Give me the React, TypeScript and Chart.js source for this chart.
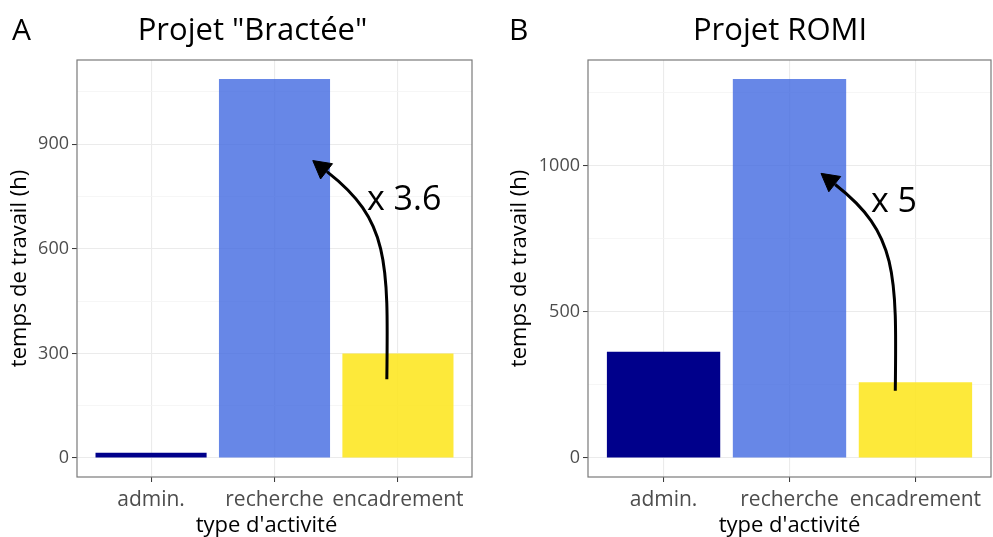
import React, { useEffect, useRef } from 'react';
import { Chart, registerables } from 'chart.js';

Chart.register(...registerables);

const FONT = "'Open Sans', 'Noto Sans', sans-serif";

// ---- data ----
const categories = ['admin.', 'recherche', 'encadrement'];
const hoursBractee = [15, 1087, 300];
const hoursRomi = [364, 1297, 259];
const barColors = ['#00008B', 'rgba(65,105,225,0.8)', 'rgba(253,231,37,0.9)'];

const yMajorBractee = [0, 300, 600, 900];
const yMinorBractee = [150, 450, 750, 1050];
const yMajorRomi = [0, 500, 1000];
const yMinorRomi = [250, 750, 1250];

// annotation arrows (data coordinates: [category index, hours]); end = arrow tip
const arrowStartBractee = [1.91, 226];
const arrowEndBractee = [1.31, 853];
const ratioTextBractee = 'x 3.6';
const ratioPosBractee = [2.05, 711];

const arrowStartRomi = [1.84, 230];
const arrowEndRomi = [1.25, 974];
const ratioTextRomi = 'x 5';
const ratioPosRomi = [1.83, 843];

type PanelProps = {
  letter: string;
  title: string;
  values: number[];
  yMajor: number[];
  yMinor: number[];
  arrowStart: number[];
  arrowEnd: number[];
  ratioText: string;
  ratioPos: number[];
  left: number;
  width: number;
  yAxisWidth: number;
  rightPad: number;
  yTitlePad: number;
  titleX: number;
  letterX: number;
  xTitleShift: number;
};

function drawArrow(ctx: CanvasRenderingContext2D, p0: { x: number; y: number }, tip: { x: number; y: number }) {
  const theta = (38 * Math.PI) / 180;
  const sx = Math.sign(p0.x - tip.x) || 1;
  const back = { x: sx * Math.cos(theta), y: Math.sin(theta) };
  const h = 17;
  const base = { x: tip.x + back.x * h, y: tip.y + back.y * h };
  const cx = p0.x + 2 * sx;
  const corner = { x: cx, y: base.y + Math.abs(cx - base.x) * Math.tan(theta) };
  const c1 = { x: p0.x + 0.75 * (corner.x - p0.x), y: p0.y + 0.75 * (corner.y - p0.y) };
  ctx.save();
  ctx.beginPath();
  ctx.moveTo(p0.x, p0.y);
  ctx.bezierCurveTo(c1.x, c1.y, corner.x, corner.y, base.x + back.x, base.y + back.y);
  ctx.lineWidth = 3;
  ctx.strokeStyle = '#000';
  ctx.lineCap = 'butt';
  ctx.stroke();
  const side = 20;
  const half = (29 * Math.PI) / 180;
  const ang = Math.atan2(back.y, back.x);
  ctx.beginPath();
  ctx.moveTo(tip.x, tip.y);
  ctx.lineTo(tip.x + side * Math.cos(ang - half), tip.y + side * Math.sin(ang - half));
  ctx.lineTo(tip.x + side * Math.cos(ang + half), tip.y + side * Math.sin(ang + half));
  ctx.closePath();
  ctx.fillStyle = '#000';
  ctx.fill();
  ctx.lineWidth = 1;
  ctx.stroke();
  ctx.restore();
}

function Panel(p: PanelProps) {
  const ref = useRef<HTMLCanvasElement>(null);
  useEffect(() => {
    const canvas = ref.current!;
    const ymax = Math.max(...p.values);
    const isMajor = (v: number) => p.yMajor.includes(v);
    const decor = {
      id: 'decor' + p.letter,
      afterDraw(chart: any) {
        const ctx: CanvasRenderingContext2D = chart.ctx;
        const { left, right, top, bottom } = chart.chartArea;
        const xs = chart.scales.x;
        const ys = chart.scales.y;
        ctx.save();
        ctx.strokeStyle = '#7a7a7a';
        ctx.lineWidth = 1.2;
        ctx.strokeRect(left, top, right - left, bottom - top);
        ctx.fillStyle = '#000';
        ctx.textBaseline = 'alphabetic';
        ctx.font = `31px ${FONT}`;
        ctx.textAlign = 'center';
        ctx.fillText(p.title, p.titleX, 40);
        ctx.font = `30px ${FONT}`;
        ctx.textAlign = 'left';
        ctx.fillText(p.letter, p.letterX, 40);
        ctx.font = `22px ${FONT}`;
        ctx.textAlign = 'center';
        ctx.fillText("type d'activité", (left + right) / 2 + p.xTitleShift, 532);
        drawArrow(
          ctx,
          { x: xs.getPixelForValue(p.arrowStart[0]), y: ys.getPixelForValue(p.arrowStart[1]) },
          { x: xs.getPixelForValue(p.arrowEnd[0]), y: ys.getPixelForValue(p.arrowEnd[1]) }
        );
        ctx.font = `34px ${FONT}`;
        ctx.textAlign = 'center';
        ctx.fillStyle = '#000';
        ctx.fillText(p.ratioText, xs.getPixelForValue(p.ratioPos[0]), ys.getPixelForValue(p.ratioPos[1]));
        ctx.restore();
      },
    };
    const chart = new Chart(canvas, {
      type: 'bar',
      data: {
        datasets: [
          {
            data: p.values.map((v, i) => ({ x: i, y: v })),
            backgroundColor: barColors,
            borderWidth: 0,
            barPercentage: 0.9,
            categoryPercentage: 1,
          } as any,
        ],
      },
      options: {
        animation: false,
        responsive: false,
        devicePixelRatio: 1,
        layout: { padding: { top: 60, right: p.rightPad, left: 0, bottom: 0 } },
        plugins: { legend: { display: false }, tooltip: { enabled: false }, title: { display: false } },
        scales: {
          x: {
            type: 'linear',
            bounds: 'data',
            offset: false,
            min: -0.6,
            max: categories.length - 0.4,
            afterBuildTicks: (s: any) => {
              s.ticks = categories.map((_, i) => ({ value: i }));
            },
            afterFit: (s: any) => {
              s.height = 60;
              s.paddingLeft = 0;
              s.paddingRight = 0;
            },
            ticks: {
              callback: (v: any) => categories[v as number] ?? '',
              color: '#4D4D4D',
              font: { family: FONT, size: 21 },
              padding: 5,
              maxRotation: 0,
              autoSkip: false,
            },
            grid: { offset: false, color: '#EBEBEB', lineWidth: 1.1, tickLength: 5, tickColor: '#333333', tickWidth: 1 },
            border: { display: false },
            title: { display: false },
          } as any,
          y: {
            type: 'linear',
            bounds: 'data',
            min: -0.05 * ymax,
            max: 1.05 * ymax,
            afterBuildTicks: (s: any) => {
              s.ticks = [...p.yMajor, ...p.yMinor].sort((a, b) => a - b).map((v) => ({ value: v }));
            },
            afterFit: (s: any) => {
              s.width = p.yAxisWidth;
            },
            ticks: {
              callback: (v: any) => (isMajor(v) ? String(v) : ''),
              color: '#4D4D4D',
              font: { family: FONT, size: 18 },
              padding: 3,
              autoSkip: false,
            },
            grid: {
              color: (c: any) => (c.tick && isMajor(c.tick.value) ? '#EBEBEB' : '#F4F4F4'),
              lineWidth: (c: any) => (c.tick && isMajor(c.tick.value) ? 1.1 : 0.8),
              tickLength: 5,
              tickColor: (c: any) => (c.tick && isMajor(c.tick.value) ? '#333333' : 'rgba(0,0,0,0)'),
              tickWidth: 1,
            },
            border: { display: false },
            title: {
              display: true,
              text: 'temps de travail (h)',
              color: '#000',
              font: { family: FONT, size: 22, lineHeight: 1 },
              padding: { top: p.yTitlePad, bottom: 0 },
            },
          } as any,
        },
      },
      plugins: [decor],
    });
    return () => chart.destroy();
  }, []);
  return (
    <canvas
      ref={ref}
      width={p.width}
      height={537}
      style={{ position: 'absolute', left: p.left, top: 0, width: p.width, height: 537 }}
    />
  );
}

export default function App() {
  return (
    <div style={{ position: 'absolute', left: 0, top: 0, width: 993, height: 537, background: '#fff', overflow: 'hidden' }}>
      <Panel
        letter="A"
        title={'Projet "Bractée"'}
        values={hoursBractee}
        yMajor={yMajorBractee}
        yMinor={yMinorBractee}
        arrowStart={arrowStartBractee}
        arrowEnd={arrowEndBractee}
        ratioText={ratioTextBractee}
        ratioPos={ratioPosBractee}
        left={0}
        width={496}
        yAxisWidth={77}
        rightPad={24}
        yTitlePad={9}
        titleX={252.5}
        letterX={12}
        xTitleShift={-8}
      />
      <Panel
        letter="B"
        title="Projet ROMI"
        values={hoursRomi}
        yMajor={yMajorRomi}
        yMinor={yMinorRomi}
        arrowStart={arrowStartRomi}
        arrowEnd={arrowEndRomi}
        ratioText={ratioTextRomi}
        ratioPos={ratioPosRomi}
        left={496}
        width={497}
        yAxisWidth={92}
        rightPad={2}
        yTitlePad={13}
        titleX={284}
        letterX={13}
        xTitleShift={0}
      />
    </div>
  );
}
